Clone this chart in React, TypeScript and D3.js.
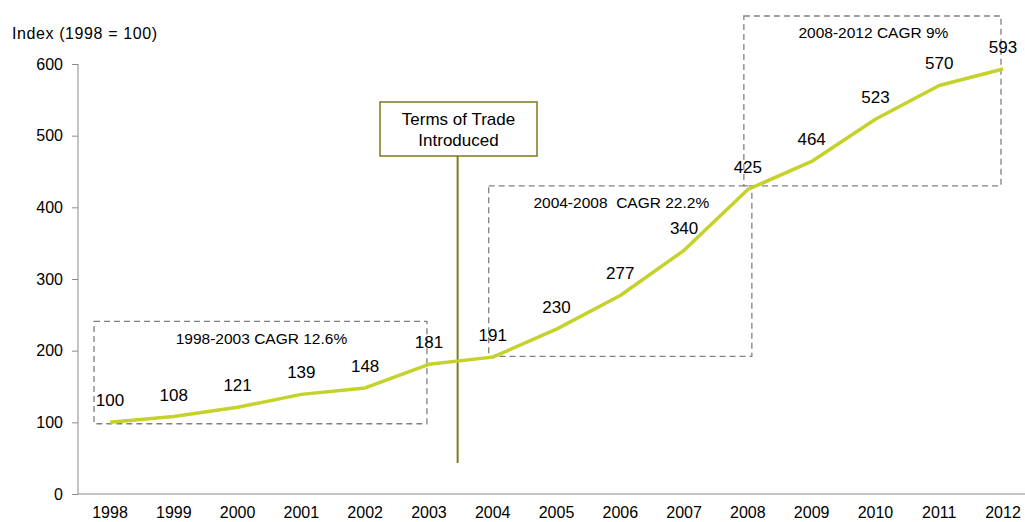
import * as React from 'react';
import * as d3 from 'd3';

const years = ['1998', '1999', '2000', '2001', '2002', '2003', '2004', '2005', '2006', '2007', '2008', '2009', '2010', '2011', '2012'];
const indexValues = [100, 108, 121, 139, 148, 181, 191, 230, 277, 340, 425, 464, 523, 570, 593];
const yTicks = [0, 100, 200, 300, 400, 500, 600];

// dashed CAGR boxes: [from year, to year, low value, high value]
const cagrLabels = ['1998-2003 CAGR 12.6%', '2004-2008  CAGR 22.2%', '2008-2012 CAGR 9%'];
const cagrFrom = ['1998', '2004', '2008'];
const cagrTo = ['2003', '2008', '2012'];
const cagrLow = [98, 192, 430];
const cagrHigh = [241, 430, 667];

const W = 1025;
const H = 522;
const FONT = 'Liberation Sans, Arial, sans-serif';

const App: React.FC = () => {
  const ref = React.useRef<SVGSVGElement>(null);

  React.useEffect(() => {
    const svg = d3.select(ref.current);
    svg.selectAll('*').remove();

    const x = d3.scalePoint<string>().domain(years).range([110, 1003]);
    const step = x.step();
    const y = d3.scaleLinear().domain([0, 600]).range([494, 64]);

    // axes
    svg.append('line')
      .attr('x1', 78).attr('x2', W).attr('y1', y(0)).attr('y2', y(0))
      .attr('stroke', '#8c8c8c').attr('stroke-width', 1);
    svg.append('line')
      .attr('x1', 78).attr('x2', 78).attr('y1', y(600)).attr('y2', y(0))
      .attr('stroke', '#8c8c8c').attr('stroke-width', 1);

    const yt = svg.append('g');
    yt.selectAll('line').data(yTicks).enter().append('line')
      .attr('x1', 72).attr('x2', 78)
      .attr('y1', d => y(d) + 0.5).attr('y2', d => y(d) + 0.5)
      .attr('stroke', '#8c8c8c');
    yt.selectAll('text').data(yTicks).enter().append('text')
      .attr('x', 63).attr('y', d => y(d)).attr('dy', '0.35em')
      .attr('text-anchor', 'end')
      .attr('font-family', FONT).attr('font-size', 16).attr('fill', '#000')
      .text(d => d);

    svg.append('g').selectAll('text').data(years).enter().append('text')
      .attr('x', d => x(d)!).attr('y', 518)
      .attr('text-anchor', 'middle')
      .attr('font-family', FONT).attr('font-size', 16).attr('fill', '#000')
      .text(d => d);

    svg.append('text')
      .attr('x', 12).attr('y', 33).attr('dy', '0.35em')
      .attr('font-family', FONT).attr('font-size', 16).attr('fill', '#000')
      .attr('letter-spacing', 0.6)
      .text('Index (1998 = 100)');

    // CAGR boxes
    const boxes = cagrLabels.map((label, i) => ({
      label,
      x0: x(cagrFrom[i])! - (i === 0 ? 16 : 4),
      x1: x(cagrTo[i])! + (i === 1 ? 4 : -2),
      y0: y(cagrHigh[i]),
      y1: y(cagrLow[i]),
    }));
    const bg = svg.append('g');
    bg.selectAll('rect').data(boxes).enter().append('rect')
      .attr('x', d => d.x0).attr('y', d => d.y0)
      .attr('width', d => d.x1 - d.x0).attr('height', d => d.y1 - d.y0)
      .attr('fill', 'none').attr('stroke', '#808080')
      .attr('stroke-width', 1.3).attr('stroke-dasharray', '6,4');
    bg.selectAll('text').data(boxes).enter().append('text')
      .attr('x', d => (d.x0 + d.x1) / 2 + 1).attr('y', d => d.y0 + 17).attr('dy', '0.35em')
      .attr('text-anchor', 'middle')
      .attr('font-family', FONT).attr('font-size', 15.5).attr('fill', '#000')
      .style('white-space', 'pre')
      .text(d => d.label);

    // Terms of Trade marker
    const mx = x('2003')! + step * 0.45;
    svg.append('line')
      .attr('x1', mx).attr('x2', mx).attr('y1', 156).attr('y2', 463)
      .attr('stroke', '#7f7a1c').attr('stroke-width', 2);
    svg.append('rect')
      .attr('x', 380).attr('y', 102).attr('width', 157).attr('height', 54)
      .attr('fill', '#fff').attr('stroke', '#7f7a1c').attr('stroke-width', 1.5);
    svg.append('text')
      .attr('x', 458.5).attr('y', 119).attr('dy', '0.35em')
      .attr('text-anchor', 'middle')
      .attr('font-family', FONT).attr('font-size', 17).attr('fill', '#000')
      .text('Terms of Trade');
    svg.append('text')
      .attr('x', 458.5).attr('y', 140).attr('dy', '0.35em')
      .attr('text-anchor', 'middle')
      .attr('font-family', FONT).attr('font-size', 17).attr('fill', '#000')
      .text('Introduced');

    // the line
    const line = d3.line<number>()
      .x((_, i) => x(years[i])!)
      .y(d => y(d));
    svg.append('path')
      .datum(indexValues)
      .attr('d', line)
      .attr('fill', 'none')
      .attr('stroke', '#c4d22b')
      .attr('stroke-width', 3.5)
      .attr('stroke-linejoin', 'round');

    svg.append('g').selectAll('text').data(indexValues).enter().append('text')
      .attr('x', (_, i) => x(years[i])!)
      .attr('y', d => y(d) - 22).attr('dy', '0.35em')
      .attr('text-anchor', 'middle')
      .attr('font-family', FONT).attr('font-size', 17).attr('fill', '#000')
      .text(d => d);
  }, []);

  return (
    <svg ref={ref} width={W} height={H}
      style={{ position: 'absolute', left: 0, top: 0, background: '#fff' }} />
  );
};

export default App;
